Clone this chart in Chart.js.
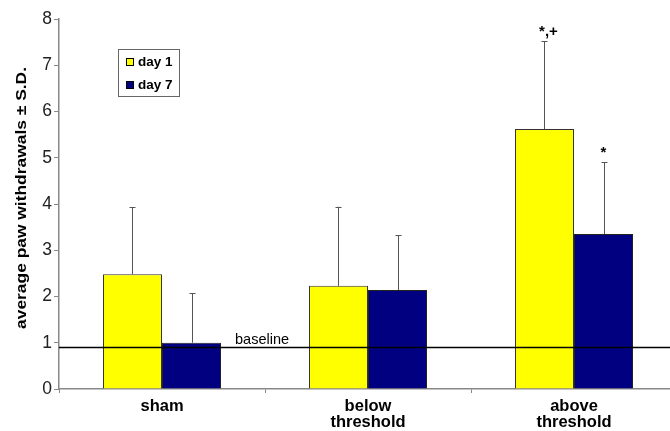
<!DOCTYPE html>
<html>
<head>
<meta charset="utf-8">
<script src="https://cdn.jsdelivr.net/npm/chart.js@4/dist/chart.umd.min.js"></script>
<style>
html,body{margin:0;padding:0;background:#fff;overflow:hidden;width:670px;height:431px;}
#wrap{width:680px;height:431px;}
</style>
</head>
<body>
<div id="wrap"><canvas id="c" width="680" height="431"></canvas></div>
<script>
const categories = [["sham"], ["below", "threshold"], ["above", "threshold"]];
const seriesNames = ["day 1", "day 7"];
const day1 = [2.48, 2.23, 5.62];
const day7 = [1.0, 2.14, 3.35];
const day1SD = [1.45, 1.71, 1.90];
const day7SD = [1.07, 1.18, 1.55];
const day1Marks = ["", "", "*,+"];
const day7Marks = ["", "", "*"];
const baselineValue = 0.9;
const baselineLabel = "baseline";
const yTicks = [0, 1, 2, 3, 4, 5, 6, 7, 8];
const yTitle = "average paw withdrawals \u00B1 S.D.";

const FONT = "'Liberation Sans', Arial, sans-serif";
const colors = ["#ffff00", "#000080"];
const sds = [day1SD, day7SD];
const marks = [day1Marks, day7Marks];

const extras = {
  id: 'extras',
  afterDatasetsDraw(chart) {
    const ctx = chart.ctx;
    const y = chart.scales.y;
    const area = chart.chartArea;
    ctx.save();
    // error bars and significance marks
    chart.data.datasets.forEach((ds, di) => {
      const meta = chart.getDatasetMeta(di);
      meta.data.forEach((bar, i) => {
        const top = ds.data[i] + sds[di][i];
        const yt = y.getPixelForValue(top);
        ctx.strokeStyle = '#555';
        ctx.lineWidth = 1;
        ctx.beginPath();
        ctx.moveTo(Math.round(bar.x) + 0.5, bar.y);
        ctx.lineTo(Math.round(bar.x) + 0.5, yt);
        ctx.moveTo(Math.round(bar.x) - 2.5, Math.round(yt) + 0.5);
        ctx.lineTo(Math.round(bar.x) + 3.5, Math.round(yt) + 0.5);
        ctx.stroke();
        const m = marks[di][i];
        if (m) {
          ctx.fillStyle = '#000';
          ctx.font = "bold 15px " + FONT;
          ctx.textAlign = 'center';
          ctx.textBaseline = 'bottom';
          ctx.fillText(m, bar.x + (m.length > 1 ? 4 : 0), yt - 2);
        }
      });
    });
    // baseline
    const yb = y.getPixelForValue(baselineValue);
    ctx.strokeStyle = '#000';
    ctx.lineWidth = 1.5;
    ctx.beginPath();
    ctx.moveTo(area.left, yb);
    ctx.lineTo(chart.width, yb);
    ctx.stroke();
    ctx.fillStyle = '#000';
    ctx.font = "14.5px " + FONT;
    ctx.textAlign = 'left';
    ctx.textBaseline = 'bottom';
    ctx.fillText(baselineLabel, 235, yb);
    // legend
    const lx = 118, ly = 49, lw = 61, lh = 47;
    ctx.fillStyle = '#fff';
    ctx.fillRect(lx, ly, lw, lh);
    ctx.strokeStyle = '#666';
    ctx.lineWidth = 1;
    ctx.strokeRect(lx + 0.5, ly + 0.5, lw, lh);
    chart.data.datasets.forEach((ds, di) => {
      const ry = ly + 13 + di * 23;
      ctx.fillStyle = ds.backgroundColor;
      ctx.fillRect(lx + 8, ry - 4, 8, 8);
      ctx.strokeStyle = '#000';
      ctx.strokeRect(lx + 8.5, ry - 3.5, 7, 7);
      ctx.fillStyle = '#000';
      ctx.font = "bold 13.5px " + FONT;
      ctx.textAlign = 'left';
      ctx.textBaseline = 'middle';
      ctx.fillText(ds.label, lx + 20, ry);
    });
    // y axis title (slightly stretched along its length, like the reference)
    ctx.translate(22, (area.top + area.bottom) / 2 - 6);
    ctx.rotate(-Math.PI / 2);
    ctx.scale(1.2, 1);
    ctx.fillStyle = '#000';
    ctx.font = "bold 14.5px " + FONT;
    ctx.textAlign = 'center';
    ctx.textBaseline = 'middle';
    ctx.fillText(yTitle, 0, 0);
    ctx.restore();
  }
};

new Chart(document.getElementById('c'), {
  type: 'bar',
  data: {
    labels: categories,
    datasets: [
      { label: seriesNames[0], data: day1, backgroundColor: colors[0], borderColor: '#333', borderWidth: 1, borderSkipped: 'bottom' },
      { label: seriesNames[1], data: day7, backgroundColor: colors[1], borderColor: '#222', borderWidth: 1, borderSkipped: 'bottom' }
    ]
  },
  options: {
    responsive: false,
    animation: false,
    events: [],
    layout: { padding: { top: 19, right: 3, left: 0, bottom: 0 } },
    datasets: { bar: { categoryPercentage: 0.573, barPercentage: 1.0 } },
    plugins: { legend: { display: false }, tooltip: { enabled: false } },
    scales: {
      x: {
        grid: { display: true, drawOnChartArea: false, offset: true, tickLength: 4, color: '#888' },
        border: { display: true, color: '#888', width: 1.5 },
        ticks: { color: '#000', font: { family: FONT, size: 16.5, weight: 'bold', lineHeight: 1.0 }, padding: 5, maxRotation: 0 },
        afterFit(scale) { scale.height = 42; }
      },
      y: {
        min: 0, max: 8,
        afterBuildTicks(scale) { scale.ticks = yTicks.map(v => ({ value: v })); },
        grid: { display: true, drawOnChartArea: false, tickLength: 5, color: '#888' },
        border: { display: true, color: '#888', width: 1.5 },
        ticks: { color: '#222', font: { family: FONT, size: 17.5 }, padding: 2 },
        title: { display: false },
        afterFit(scale) { scale.width = 59; }
      }
    }
  },
  plugins: [extras]
});
</script>
</body>
</html>
